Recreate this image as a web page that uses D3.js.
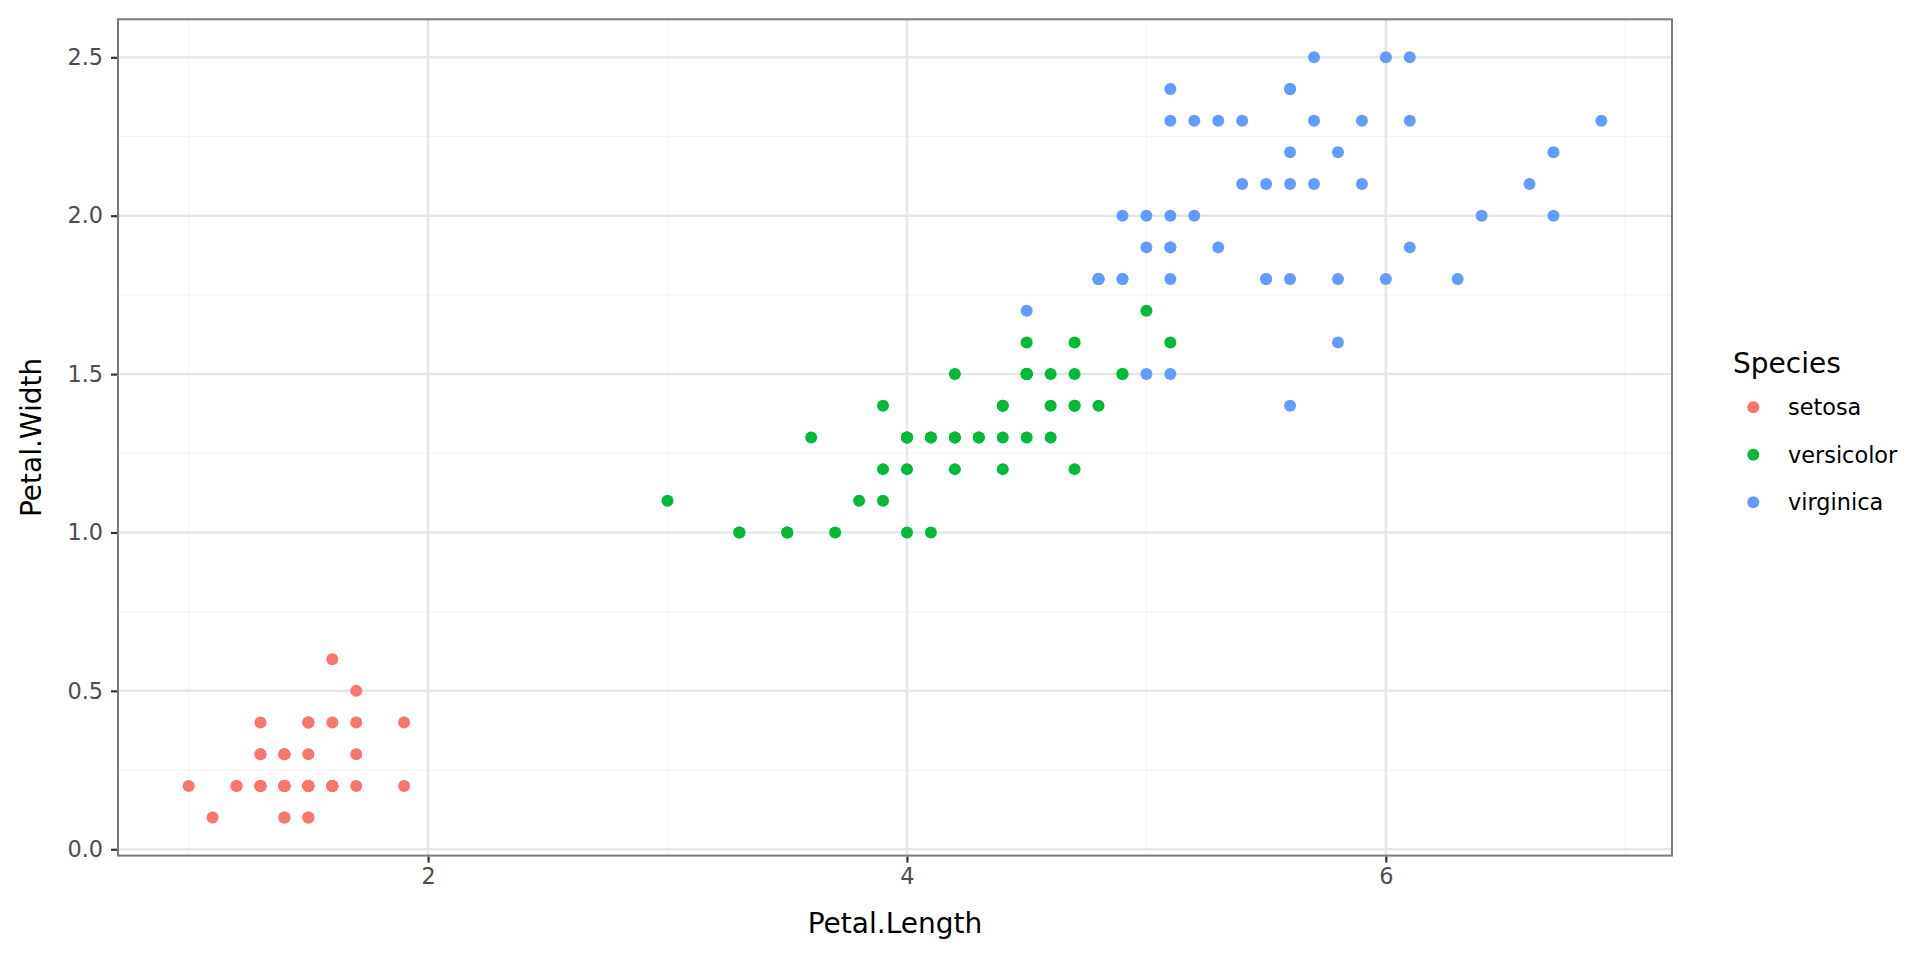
<!DOCTYPE html>
<html>
<head>
<meta charset="utf-8">
<script src="https://cdn.jsdelivr.net/npm/d3@7"></script>
<style>
  body { margin: 0; background: #fff; }
  svg text { font-family: "DejaVu Sans", sans-serif; }
</style>
</head>
<body>
<div id="vis"></div>
<script>
// iris petal measurements, row order kept (draw order matters for overlaps)
const species = ["setosa", "versicolor", "virginica"];
const speciesColors = ["#F8766D", "#00BA38", "#619CFF"];

const setosaLength = [1.4,1.4,1.3,1.5,1.4,1.7,1.4,1.5,1.4,1.5,1.5,1.6,1.4,1.1,1.2,1.5,1.3,1.4,1.7,1.5,
    1.7,1.5,1.0,1.7,1.9,1.6,1.6,1.5,1.4,1.6,1.6,1.5,1.5,1.4,1.5,1.2,1.3,1.4,1.3,1.5,
    1.3,1.3,1.3,1.6,1.9,1.4,1.6,1.4,1.5,1.4];
const setosaWidth = [0.2,0.2,0.2,0.2,0.2,0.4,0.3,0.2,0.2,0.1,0.2,0.2,0.1,0.1,0.2,0.4,0.4,0.3,0.3,0.3,
    0.2,0.4,0.2,0.5,0.2,0.2,0.4,0.2,0.2,0.2,0.2,0.4,0.1,0.2,0.2,0.2,0.2,0.1,0.2,0.2,
    0.3,0.3,0.2,0.6,0.4,0.3,0.2,0.2,0.2,0.2];

const versicolorLength = [4.7,4.5,4.9,4.0,4.6,4.5,4.7,3.3,4.6,3.9,3.5,4.2,4.0,4.7,3.6,4.4,4.5,4.1,4.5,3.9,
    4.8,4.0,4.9,4.7,4.3,4.4,4.8,5.0,4.5,3.5,3.8,3.7,3.9,5.1,4.5,4.5,4.7,4.4,4.1,4.0,
    4.4,4.6,4.0,3.3,4.2,4.2,4.2,4.3,3.0,4.1];
const versicolorWidth = [1.4,1.5,1.5,1.3,1.5,1.3,1.6,1.0,1.3,1.4,1.0,1.5,1.0,1.4,1.3,1.4,1.5,1.0,1.5,1.1,
    1.8,1.3,1.5,1.2,1.3,1.4,1.4,1.7,1.5,1.0,1.1,1.0,1.2,1.6,1.5,1.6,1.5,1.3,1.3,1.3,
    1.2,1.4,1.2,1.0,1.3,1.2,1.3,1.3,1.1,1.3];

const virginicaLength = [6.0,5.1,5.9,5.6,5.8,6.6,4.5,6.3,5.8,6.1,5.1,5.3,5.5,5.0,5.1,5.3,5.5,6.7,6.9,5.0,
    5.7,4.9,6.7,4.9,5.7,6.0,4.8,4.9,5.6,5.8,6.1,6.4,5.6,5.1,5.6,6.1,5.6,5.5,4.8,5.4,
    5.6,5.1,5.1,5.9,5.7,5.2,5.0,5.2,5.4,5.1];
const virginicaWidth = [2.5,1.9,2.1,1.8,2.2,2.1,1.7,1.8,1.8,2.5,2.0,1.9,2.1,2.0,2.4,2.3,1.8,2.2,2.3,1.5,
    2.3,2.0,2.0,1.8,2.1,1.8,1.8,1.8,2.1,1.6,1.9,2.0,2.2,1.5,1.4,2.3,2.4,1.8,1.8,2.1,
    2.4,2.3,1.9,2.3,2.5,2.3,1.9,2.0,2.3,1.8];

const xTicks = [2, 4, 6];
const xMinor = [1, 3, 5, 7];
const yTicks = [0.0, 0.5, 1.0, 1.5, 2.0, 2.5];
const yMinor = [0.25, 0.75, 1.25, 1.75, 2.25];

const lengths = [setosaLength, versicolorLength, virginicaLength];
const widths = [setosaWidth, versicolorWidth, virginicaWidth];

const points = [];
species.forEach((s, i) => {
    lengths[i].forEach((v, j) => {
        points.push({ species: s, len: v, wid: widths[i][j] });
    });
});

const W = 1920, H = 960;
const panel = { left: 118, right: 1672, top: 19.3, bottom: 855.6 };

// ggplot style 5% expansion
const xExt = d3.extent(points, d => d.len);
const yExt = d3.extent(points, d => d.wid);
const xPad = (xExt[1] - xExt[0]) * 0.05;
const yPad = (yExt[1] - yExt[0]) * 0.05;

const x = d3.scaleLinear()
    .domain([xExt[0] - xPad, xExt[1] + xPad])
    .range([panel.left, panel.right]);
const y = d3.scaleLinear()
    .domain([yExt[0] - yPad, yExt[1] + yPad])
    .range([panel.bottom, panel.top]);
const color = d3.scaleOrdinal().domain(species).range(speciesColors);

const svg = d3.select("#vis").append("svg")
    .attr("width", W)
    .attr("height", H);

svg.append("rect")
    .attr("x", panel.left).attr("y", panel.top)
    .attr("width", panel.right - panel.left)
    .attr("height", panel.bottom - panel.top)
    .attr("fill", "#fff");

const grid = svg.append("g");

// minor grid
grid.selectAll(".xminor").data(xMinor).enter().append("line")
    .attr("x1", d => x(d)).attr("x2", d => x(d))
    .attr("y1", panel.top).attr("y2", panel.bottom)
    .attr("stroke", "#F4F4F4").attr("stroke-width", 1.2);
grid.selectAll(".yminor").data(yMinor).enter().append("line")
    .attr("y1", d => y(d)).attr("y2", d => y(d))
    .attr("x1", panel.left).attr("x2", panel.right)
    .attr("stroke", "#F4F4F4").attr("stroke-width", 1.2);

// major grid
grid.selectAll(".xmajor").data(xTicks).enter().append("line")
    .attr("x1", d => x(d)).attr("x2", d => x(d))
    .attr("y1", panel.top).attr("y2", panel.bottom)
    .attr("stroke", "#E6E6E6").attr("stroke-width", 2.5);
grid.selectAll(".ymajor").data(yTicks).enter().append("line")
    .attr("y1", d => y(d)).attr("y2", d => y(d))
    .attr("x1", panel.left).attr("x2", panel.right)
    .attr("stroke", "#E6E6E6").attr("stroke-width", 2.5);

// points
svg.append("g").selectAll("circle")
    .data(points).enter().append("circle")
    .attr("cx", d => x(d.len))
    .attr("cy", d => y(d.wid))
    .attr("r", 6)
    .attr("fill", d => color(d.species));

// panel border
svg.append("rect")
    .attr("x", panel.left).attr("y", panel.top)
    .attr("width", panel.right - panel.left)
    .attr("height", panel.bottom - panel.top)
    .attr("fill", "none")
    .attr("stroke", "#7a7a7a")
    .attr("stroke-width", 2);

// axes
const xAxis = svg.append("g")
    .attr("transform", "translate(0," + (panel.bottom + 1) + ")")
    .call(d3.axisBottom(x).tickValues(xTicks).tickSize(6).tickPadding(6).tickFormat(d3.format("d")));
const yAxis = svg.append("g")
    .attr("transform", "translate(" + (panel.left - 1) + ",0)")
    .call(d3.axisLeft(y).tickValues(yTicks).tickSize(6).tickPadding(8).tickFormat(d3.format(".1f")));

[xAxis, yAxis].forEach(a => {
    a.select(".domain").remove();
    a.selectAll(".tick line").attr("stroke", "#333333").attr("stroke-width", 2.2);
    a.selectAll(".tick text")
        .attr("fill", "#4D4D4D")
        .style("font-size", "22.4px")
        .style("font-family", "DejaVu Sans, sans-serif");
});

// axis titles
svg.append("text")
    .attr("x", (panel.left + panel.right) / 2)
    .attr("y", 933)
    .attr("text-anchor", "middle")
    .style("font-size", "28px")
    .attr("fill", "#000")
    .text("Petal.Length");

svg.append("text")
    .attr("transform", "translate(41," + ((panel.top + panel.bottom) / 2) + ") rotate(-90)")
    .attr("text-anchor", "middle")
    .style("font-size", "28px")
    .attr("fill", "#000")
    .text("Petal.Width");

// legend
const legend = svg.append("g");
legend.append("text")
    .attr("x", 1733)
    .attr("y", 373)
    .style("font-size", "28px")
    .attr("fill", "#000")
    .text("Species");

const keyY = d3.scalePoint().domain(species).range([407.3, 502.3]);
const keys = legend.selectAll(".key").data(species).enter().append("g");
keys.append("circle")
    .attr("cx", 1753.3)
    .attr("cy", d => keyY(d))
    .attr("r", 6)
    .attr("fill", d => color(d));
keys.append("text")
    .attr("x", 1788)
    .attr("y", d => keyY(d))
    .attr("dy", "0.36em")
    .style("font-size", "22.4px")
    .attr("fill", "#000")
    .text(d => d);
</script>
</body>
</html>
